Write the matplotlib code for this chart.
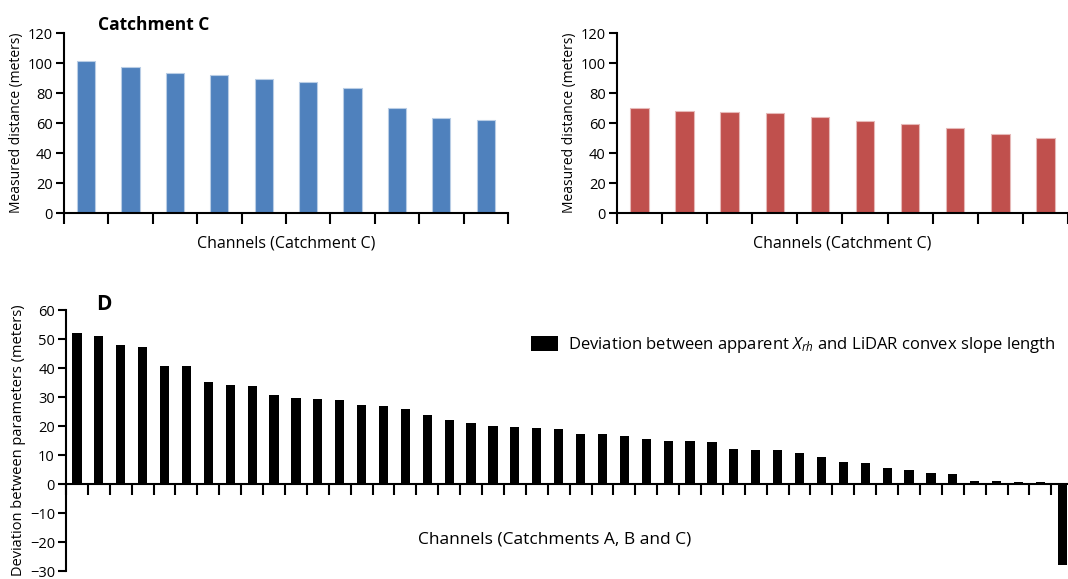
import numpy as np
import matplotlib as mpl
import matplotlib.pyplot as plt

mpl.rcParams['font.family'] = ['Open Sans', 'DejaVu Sans']
mpl.rcParams['mathtext.fontset'] = 'custom'
mpl.rcParams['mathtext.it'] = 'Open Sans:italic'
mpl.rcParams['mathtext.rm'] = 'Open Sans'
mpl.rcParams['axes.linewidth'] = 1.5

# Catchment C, apparent values (blue) and LiDAR values (red)
apparent_c = [101.5, 97.5, 93.5, 92.2, 89.1, 87.5, 83.1, 69.8, 63.1, 62.0]
lidar_c = [70.0, 67.8, 67.3, 66.9, 64.0, 61.3, 59.3, 56.9, 52.9, 50.2]

# deviation for all channels of catchments A, B and C
deviation = [52.1, 50.9, 47.9, 47.4, 40.7, 40.6, 35.3, 34.3, 33.8, 30.7,
             29.8, 29.4, 29.0, 27.4, 26.9, 25.8, 23.9, 22.0, 21.0, 20.1,
             19.6, 19.5, 19.0, 17.4, 17.3, 16.5, 15.7, 14.7, 14.7, 14.6,
             12.2, 11.9, 11.6, 10.8, 9.4, 7.7, 7.3, 5.5, 4.8, 3.7,
             3.4, 1.2, 1.2, 0.7, 0.6, -27.9]

top_yticks = [0, 20, 40, 60, 80, 100, 120]
dev_yticks = [-30, -20, -10, 0, 10, 20, 30, 40, 50, 60]

fig = plt.figure(figsize=(10.68, 5.79), dpi=100)


def style_top(ax, values, color, edge):
    x = np.arange(len(values))
    ax.bar(x, values, width=0.41, color=color, edgecolor=edge, linewidth=0.8)
    ax.set_xlim(-0.5, len(values) - 0.5)
    ax.set_ylim(0, 120)
    ax.set_yticks(top_yticks)
    ax.set_xticks(np.arange(len(values) + 1) - 0.5)
    ax.set_xticklabels([])
    ax.spines['top'].set_visible(False)
    ax.spines['right'].set_visible(False)
    ax.tick_params(axis='x', direction='out', length=8, width=1.5)
    ax.tick_params(axis='y', direction='out', length=6, width=1.5, labelsize=10.5, pad=2)
    ax.set_ylabel('Measured distance (meters)', fontsize=10, labelpad=3)
    ax.set_xlabel('Channels (Catchment C)', fontsize=11.5, labelpad=5)


ax1 = fig.add_axes([0.0599, 0.632, 0.4157, 0.311])
style_top(ax1, apparent_c, '#4F81BD', '#B9CDE5')

ax2 = fig.add_axes([0.5777, 0.632, 0.4223, 0.311])
style_top(ax2, lidar_c, '#C0504D', '#E6B9B8')

fig.text(98 / 1068, 1 - 30 / 579, 'Catchment C', fontsize=12.5, fontweight='bold', va='baseline')

# panel D
ax3 = fig.add_axes([0.0618, 0.0135, 0.938, 0.451])
x = np.arange(len(deviation))
ax3.bar(x, deviation, width=0.42, color='black',
        label='Deviation between apparent $X_{rh}$ and LiDAR convex slope length')
ax3.set_xlim(-0.5, len(deviation) - 0.75)
ax3.set_ylim(-30, 60)
ax3.set_yticks(dev_yticks)
ax3.set_xticks(np.arange(len(deviation)) - 0.5)
ax3.set_xticklabels([])
ax3.spines['top'].set_visible(False)
ax3.spines['right'].set_visible(False)
ax3.spines['bottom'].set_position(('data', 0))
ax3.tick_params(axis='x', direction='out', length=8, width=1.5)
ax3.tick_params(axis='y', direction='out', length=6, width=1.5, labelsize=10.5, pad=2)
ax3.set_ylabel('Deviation between parameters (meters)', fontsize=10.5, labelpad=3)
ax3.text(0.488, 0.122, 'Channels (Catchments A, B and C)', transform=ax3.transAxes,
         fontsize=12.5, ha='center', va='center')
ax3.legend(loc='center right', bbox_to_anchor=(0.995, 0.866), frameon=False, fontsize=12,
           handlelength=1.6, handleheight=1.0, handletextpad=0.65, borderaxespad=0.0)

fig.text(96 / 1068, 1 - 310 / 579, 'D', fontsize=15, fontweight='bold', va='baseline')

plt.savefig('out.png', dpi=100)
